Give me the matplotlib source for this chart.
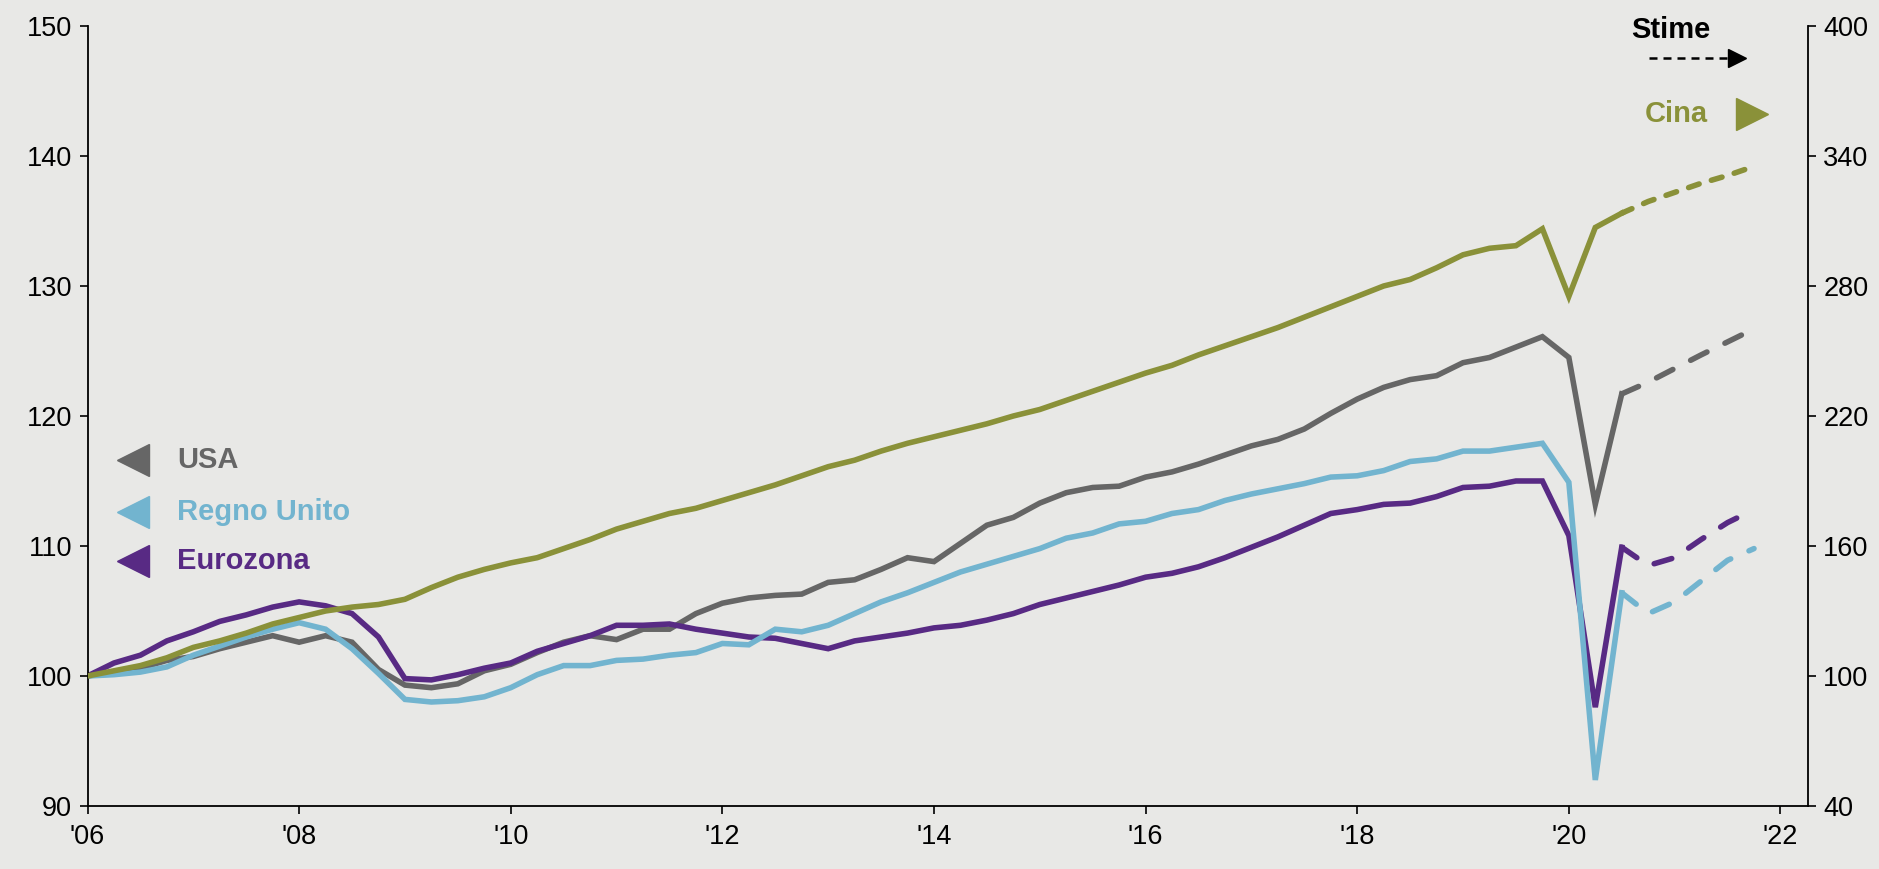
import numpy as np
import matplotlib.pyplot as plt

# PIL reale indicizzato (2006 Q1 = 100), dati trimestrali
usa = [100.0, 100.3, 100.6, 101.2, 101.5, 102.1, 102.6, 103.1, 102.6, 103.1,
       102.6, 100.5, 99.3, 99.1, 99.4, 100.4, 100.9, 101.8, 102.6, 103.1,
       102.8, 103.6, 103.6, 104.8, 105.6, 106.0, 106.2, 106.3, 107.2, 107.4,
       108.2, 109.1, 108.8, 110.2, 111.6, 112.2, 113.3, 114.1, 114.5, 114.6,
       115.3, 115.7, 116.3, 117.0, 117.7, 118.2, 119.0, 120.2, 121.3, 122.2,
       122.8, 123.1, 124.1, 124.5, 125.3, 126.1, 124.5, 113.2, 121.7]
uk = [100.0, 100.1, 100.3, 100.7, 101.6, 102.3, 103.0, 103.6, 104.1, 103.6,
      102.1, 100.2, 98.2, 98.0, 98.1, 98.4, 99.1, 100.1, 100.8, 100.8,
      101.2, 101.3, 101.6, 101.8, 102.5, 102.4, 103.6, 103.4, 103.9, 104.8,
      105.7, 106.4, 107.2, 108.0, 108.6, 109.2, 109.8, 110.6, 111.0, 111.7,
      111.9, 112.5, 112.8, 113.5, 114.0, 114.4, 114.8, 115.3, 115.4, 115.8,
      116.5, 116.7, 117.3, 117.3, 117.6, 117.9, 114.9, 92.0, 106.4]
ez = [100.0, 101.0, 101.6, 102.7, 103.4, 104.2, 104.7, 105.3, 105.7, 105.4,
      104.8, 103.0, 99.8, 99.7, 100.1, 100.6, 101.0, 101.9, 102.5, 103.1,
      103.9, 103.9, 104.0, 103.6, 103.3, 103.0, 102.9, 102.5, 102.1, 102.7,
      103.0, 103.3, 103.7, 103.9, 104.3, 104.8, 105.5, 106.0, 106.5, 107.0,
      107.6, 107.9, 108.4, 109.1, 109.9, 110.7, 111.6, 112.5, 112.8, 113.2,
      113.3, 113.8, 114.5, 114.6, 115.0, 115.0, 110.8, 97.6, 109.9]
# Cina sull'asse destro
china = [100.0, 102.4, 104.8, 108.4, 113.2, 116.2, 119.8, 124.0, 127.0, 130.0,
         131.8, 133.0, 135.4, 140.8, 145.6, 149.2, 152.2, 154.6, 158.8, 163.0,
         167.8, 171.4, 175.0, 177.4, 181.0, 184.6, 188.2, 192.4, 196.6, 199.6,
         203.8, 207.4, 210.4, 213.4, 216.4, 220.0, 223.0, 227.2, 231.4, 235.6,
         239.8, 243.4, 248.2, 252.4, 256.6, 260.8, 265.6, 270.4, 275.2, 280.0,
         283.0, 288.4, 294.4, 297.4, 298.6, 306.4, 275.2, 307.0, 313.6]

# stime: 2020 Q3 -> 2021 Q4
usa_f = [121.7, 122.6, 123.65, 124.7, 125.7, 126.7]
uk_f = [106.4, 104.8, 105.7, 107.3, 108.9, 109.8]
ez_f = [109.9, 108.5, 109.1, 110.5, 111.8, 112.8]
china_f = [313.6, 319.0, 323.2, 327.4, 331.0, 335.2]

quarters = 2006 + np.arange(len(usa)) / 4
quarters_f = quarters[-1] + np.arange(len(usa_f)) / 4

xticks = list(range(2006, 2023, 2))
xlabels = ["'06", "'08", "'10", "'12", "'14", "'16", "'18", "'20", "'22"]
left_ticks = [90, 100, 110, 120, 130, 140, 150]
right_ticks = [40, 100, 160, 220, 280, 340, 400]

c_usa = '#666666'
c_uk = '#72b4cf'
c_ez = '#582a84'
c_cn = '#8a9139'
bg = '#e8e8e6'

plt.rcParams['font.family'] = ['Liberation Sans', 'DejaVu Sans']

fig = plt.figure(figsize=(18.79, 8.69), dpi=100, facecolor=bg)
ax = fig.add_axes([0.04657, 0.0725, 0.91563, 0.8976])
ax.set_facecolor(bg)
ax2 = ax.twinx()

lw = 4.0
dash_main = (3.3, 3.6)
dash_cn = (2.0, 2.3)
ax.plot(quarters, usa, color=c_usa, lw=lw, solid_joinstyle='miter')
ax.plot(quarters_f, usa_f, color=c_usa, lw=lw, dashes=dash_main, dash_capstyle='round')
ax.plot(quarters, ez, color=c_ez, lw=lw, solid_joinstyle='miter')
ax.plot(quarters_f, ez_f, color=c_ez, lw=lw, dashes=dash_main, dash_capstyle='round')
ax.plot(quarters, uk, color=c_uk, lw=lw, solid_joinstyle='miter')
ax.plot(quarters_f, uk_f, color=c_uk, lw=lw, dashes=dash_main, dash_capstyle='round')
ax2.plot(quarters, china, color=c_cn, lw=lw, solid_joinstyle='miter')
ax2.plot(quarters_f, china_f, color=c_cn, lw=lw, dashes=dash_cn, dash_capstyle='round')

ax.set_xlim(2006, 2022.26)
ax.set_ylim(90, 150)
ax2.set_ylim(40, 400)
ax.set_xticks(xticks)
ax.set_xticklabels(xlabels)
ax.set_yticks(left_ticks)
ax2.set_yticks(right_ticks)

for a in (ax, ax2):
    for s in a.spines.values():
        s.set_visible(False)
    a.tick_params(labelsize=19.5, length=6, width=1.2, direction='out', colors='black')
ax.spines['left'].set_visible(True)
ax.spines['bottom'].set_visible(True)
ax2.spines['right'].set_visible(True)
for s in (ax.spines['left'], ax.spines['bottom'], ax2.spines['right']):
    s.set_linewidth(1.3)
ax.tick_params(axis='x', pad=7)
ax.tick_params(axis='y', pad=5)
ax2.tick_params(axis='y', pad=5)

# etichette delle serie
tr = ax.transAxes
labels = [('USA', c_usa, 0.4436), ('Regno Unito', c_uk, 0.377), ('Eurozona', c_ez, 0.314)]
for txt, col, yy in labels:
    ax.plot(0.0264, yy, marker='<', ms=23, color=col, transform=tr, clip_on=False)
    ax.text(0.052, yy, txt, color=col, fontsize=21, fontweight='bold', va='center', ha='left', transform=tr)

ax.text(0.942, 0.887, 'Cina', color=c_cn, fontsize=21, fontweight='bold', va='center', ha='right', transform=tr)
ax.plot(0.9674, 0.887, marker='>', ms=23, color=c_cn, transform=tr, clip_on=False)

# stime
ax.text(0.9204, 0.995, 'Stime', color='black', fontsize=21, fontweight='bold', va='center', ha='center', transform=tr)
ax.plot([0.9076, 0.957], [0.959, 0.959], color='black', lw=1.8, ls=(0, (3.2, 2.4)), transform=tr, clip_on=False)
ax.plot(0.959, 0.959, marker='>', ms=13, color='black', transform=tr, clip_on=False)

fig.savefig('out.png', dpi=100, facecolor=bg)
